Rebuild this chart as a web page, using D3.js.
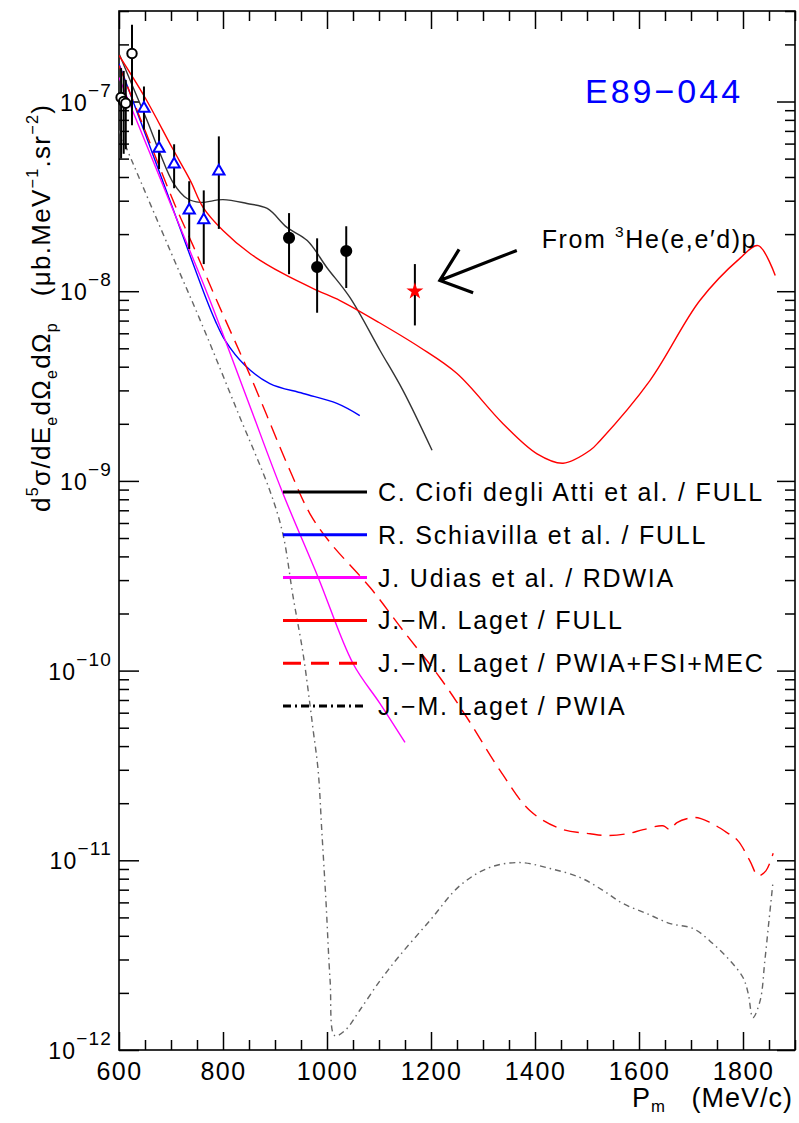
<!DOCTYPE html>
<html>
<head>
<meta charset="utf-8">
<script src="https://cdn.jsdelivr.net/npm/d3@7"></script>
<style>
body { margin: 0; background: #fff; }
text { font-family: "Liberation Sans", Arial, sans-serif; }
</style>
</head>
<body>
<svg id="chart" width="799" height="1123"></svg>
<script>
// axis ranges and ticks
var xDomain = [600, 1900];
var yDomain = [1e-12, 3e-7];
var xMajor = [600, 800, 1000, 1200, 1400, 1600, 1800];
var yMajor = [1e-12, 1e-11, 1e-10, 1e-9, 1e-8, 1e-7];
var yExp = ["−12", "−11", "−10", "−9", "−8", "−7"];

// theory curves, [Pm (MeV/c), cross section]
var ciofi = [[600,1.79e-7],[627,1.19e-7],[654,7.94e-8],[679,5.32e-8],[704,3.74e-8],[731,3.08e-8],[756,2.94e-8],[800,3.04e-8],[846,2.9e-8],[885,2.73e-8],[923,2.17e-8],[962,1.85e-8],[1000,1.33e-8],[1044,9.27e-9],[1102,4.87e-9],[1146,3.0e-9],[1202,1.45e-9]];
var schiavilla = [[600,1.58e-7],[650,6.8e-8],[700,2.9e-8],[769,8.93e-9],[785,7.0e-9],[804,5.5e-9],[842,4.07e-9],[890,3.26e-9],[954,2.89e-9],[1019,2.56e-9],[1063,2.21e-9]];
var udias = [[600,1.34e-7],[700,2.85e-8],[775,8.93e-9],[850,2.55e-9],[913,8.9e-10],[983,3.1e-10],[1050,1.09e-10],[1102,6.7e-11],[1150,4.18e-11]];
var lagetFull = [[600,1.75e-7],[650,1.05e-7],[702,5.72e-8],[737,3.84e-8],[762,2.76e-8],[800,2.09e-8],[852,1.58e-8],[915,1.24e-8],[981,1.01e-8],[1025,8.93e-9],[1100,6.84e-9],[1179,5.05e-9],[1250,3.68e-9],[1338,2.01e-9],[1404,1.39e-9],[1454,1.24e-9],[1506,1.45e-9],[1525,1.63e-9],[1621,3.38e-9],[1717,8.93e-9],[1794,1.49e-8],[1829,1.74e-8],[1862,1.21e-8]];
var lagetFsiMec = [[600,1.55e-7],[650,7.05e-8],[708,2.83e-8],[742,1.75e-8],[788,8.93e-9],[852,3.6e-9],[929,1.13e-9],[967,6.73e-10],[1006,4.73e-10],[1083,2.74e-10],[1146,1.63e-10],[1217,9.2e-11],[1269,5.66e-11],[1333,2.97e-11],[1390,1.83e-11],[1448,1.47e-11],[1506,1.38e-11],[1538,1.35e-11],[1577,1.38e-11],[1608,1.45e-11],[1646,1.52e-11],[1660,1.45e-11],[1673,1.58e-11],[1708,1.68e-11],[1737,1.58e-11],[1769,1.4e-11],[1790,1.27e-11],[1813,9.97e-12],[1829,8.3e-12],[1844,8.8e-12],[1858,1.09e-11]];
var lagetPwia = [[600,7.03e-8],[627,4.71e-8],[700,1.6e-8],[762,6.44e-9],[830,2.25e-9],[890,8.9e-10],[915,5.28e-10],[935,2.43e-10],[954,1.23e-10],[967,6.7e-11],[973,4.95e-11],[983,2.97e-11],[990,1.43e-11],[998,6.1e-12],[1006,2.32e-12],[1015,1.19e-12],[1035,1.27e-12],[1063,1.62e-12],[1102,2.32e-12],[1140,3.15e-12],[1198,4.82e-12],[1256,7.37e-12],[1313,9.17e-12],[1371,9.73e-12],[1429,9.05e-12],[1487,8.11e-12],[1531,6.93e-12],[1569,5.92e-12],[1615,5.24e-12],[1660,4.64e-12],[1704,4.37e-12],[1742,3.64e-12],[1775,2.96e-12],[1800,2.41e-12],[1810,1.99e-12],[1819,1.48e-12],[1833,1.82e-12],[1842,2.96e-12],[1850,4.82e-12],[1858,7.82e-12]];

// data points
var circX = [604, 609, 613, 625];
var circY = [1.05e-7, 1.0e-7, 9.8e-8, 1.79e-7];
var circLo = [5.0e-8, 5.3e-8, 5.6e-8, 7.5e-8];
var circHi = [1.5e-7, 1.45e-7, 1.3e-7, 2.54e-7];

var triX = [648, 677, 706, 735, 763, 792];
var triY = [9.19e-8, 5.66e-8, 4.67e-8, 2.67e-8, 2.37e-8, 4.29e-8];
var triLo = [7.1e-8, 4.4e-8, 3.49e-8, 1.67e-8, 1.39e-8, 2.13e-8];
var triHi = [1.2e-7, 7.1e-8, 5.95e-8, 3.8e-8, 3.4e-8, 6.55e-8];

var dotX = [927, 981, 1037];
var dotY = [1.91e-8, 1.34e-8, 1.63e-8];
var dotLo = [1.23e-8, 7.7e-9, 1.04e-8];
var dotHi = [2.58e-8, 1.9e-8, 2.2e-8];

var starX = [1169];
var starY = [1.0e-8];
var starLo = [6.6e-9];
var starHi = [1.39e-8];

var legendLabels = ["C. Ciofi degli Atti et al. / FULL", "R. Schiavilla et al. / FULL", "J. Udias et al. / RDWIA",
  "J.\u2212M. Laget / FULL", "J.\u2212M. Laget / PWIA+FSI+MEC", "J.\u2212M. Laget / PWIA"];

var m = {t:11, r:4, b:73, l:119},
  W = 799, H = 1123,
  w = W - m.l - m.r,
  h = H - m.t - m.b;

var x = d3.scaleLinear().domain(xDomain).range([m.l, m.l + w]);
var y = d3.scaleLog().domain(yDomain).range([m.t + h, m.t]);

var xMinor = d3.range(xDomain[0], xDomain[1] + 1, 50).filter(function(v){ return xMajor.indexOf(v) < 0; });
var yMinor = [];
yMajor.forEach(function(d) {
  for (var k = 2; k <= 9; k++) if (d * k <= yDomain[1] * 1.0001) yMinor.push(d * k);
});

var styles = [
  {c:"#333", dash:null, dashL:null},
  {c:"#0000ff", dash:null, dashL:null},
  {c:"#ff00ff", dash:null, dashL:null},
  {c:"#ff0000", dash:null, dashL:null},
  {c:"#ff0000", dash:"15,8", dashL:"18,10"},
  {c:"#666", dash:"6,4,1.5,4", dashL:"8,4,2,4"}
];
var curves = [ciofi, schiavilla, udias, lagetFull, lagetFsiMec, lagetPwia];

var svg = d3.select('#chart');
svg.append('rect').attr('width', W).attr('height', H).attr('fill', '#fff');

function richText(t, parts, base, subShift) {
  var shift = 0;
  parts.forEach(function(p) {
    var target = p.s === 'sup' ? -0.45 * base : (p.s === 'sub' ? (subShift || 0.28) * base : 0);
    t.append('tspan')
      .attr('dy', target - shift)
      .attr('font-size', p.s ? base * 0.62 : base)
      .text(p.t);
    shift = target;
  });
}

// axes
function tickAxis(axis, tx, ty, vals, size) {
  var g = svg.append('g')
    .attr('transform', 'translate(' + tx + ',' + ty + ')')
    .call(axis.tickValues(vals).tickSize(size).tickFormat(''));
  g.select('.domain').remove();
  g.selectAll('line').attr('stroke', '#000').attr('stroke-width', 1.5);
  return g;
}
tickAxis(d3.axisBottom(x), 0, m.t + h, xMinor, -10);
tickAxis(d3.axisTop(x), 0, m.t, xMinor, -10);
tickAxis(d3.axisTop(x), 0, m.t, xMajor, -18);
tickAxis(d3.axisLeft(y), m.l, 0, yMinor, -10);
tickAxis(d3.axisLeft(y), m.l, 0, yMajor, -20);
tickAxis(d3.axisRight(y), m.l + w, 0, yMinor, -10);
tickAxis(d3.axisRight(y), m.l + w, 0, yMajor, -18);

var gx = svg.append('g')
  .attr('transform', 'translate(0,' + (m.t + h) + ')')
  .call(d3.axisBottom(x).tickValues(xMajor).tickSize(-18).tickPadding(12).tickFormat(d3.format('d')));
gx.select('.domain').remove();
gx.selectAll('line').attr('stroke', '#000').attr('stroke-width', 1.5);
gx.attr('font-size', 25).attr('font-family', '"Liberation Sans", Arial, sans-serif');
gx.selectAll('text').attr('letter-spacing', 1.5).attr('fill', '#000');

yMajor.forEach(function(v, i) {
  var t = svg.append('text')
    .attr('x', m.l - 7)
    .attr('y', y(v) + 9)
    .attr('text-anchor', 'end')
    .attr('letter-spacing', 1.2);
  t.append('tspan').attr('font-size', 23).text('10');
  t.append('tspan').attr('font-size', 19).attr('dy', -14).text(yExp[i]);
});

// frame
svg.append('rect')
  .attr('x', m.l).attr('y', m.t).attr('width', w).attr('height', h)
  .attr('fill', 'none').attr('stroke', '#000').attr('stroke-width', 1.6);

// axis titles
var yl = svg.append('text')
  .attr('transform', 'translate(50,512) rotate(-90)')
  .attr('letter-spacing', 1.3);
richText(yl, [{t:'d'},{t:'5',s:'sup'},{t:'σ/dE'},{t:'e',s:'sub'},{t:'dΩ'},{t:'e',s:'sub'},{t:'dΩ'},{t:'p',s:'sub'},
  {t:'\u00a0\u00a0\u00a0(μb.MeV'},{t:'−1',s:'sup'},{t:'.sr'},{t:'−2',s:'sup'},{t:')'}], 26);

var xl = svg.append('text')
  .attr('x', m.l + w - 2).attr('y', 1107)
  .attr('text-anchor', 'end')
  .attr('letter-spacing', 1);
richText(xl, [{t:'P'},{t:'m',s:'sub'},{t:'\u00a0\u00a0\u00a0(MeV/c)'}], 27, 0.18);

// curves
svg.append('clipPath').attr('id', 'clip')
  .append('rect').attr('x', m.l).attr('y', m.t).attr('width', w).attr('height', h);

var line = d3.line()
  .x(function(d){ return x(d[0]); })
  .y(function(d){ return y(d[1]); })
  .curve(d3.curveCatmullRom.alpha(0.5));

var gc = svg.append('g').attr('clip-path', 'url(#clip)');
gc.selectAll('path.curve')
  .data(curves)
  .enter()
  .append('path')
  .attr('class', 'curve')
  .attr('d', line)
  .attr('fill', 'none')
  .attr('stroke', function(d, i){ return styles[i].c; })
  .attr('stroke-width', 1.4)
  .attr('stroke-dasharray', function(d, i){ return styles[i].dash; });

// data points with error bars
function points(X, Y, Lo, Hi, sym, size, stroke, fill) {
  var data = X.map(function(v, i){ return {x:v, y:Y[i], lo:Lo[i], hi:Hi[i]}; });
  var g = svg.append('g');
  g.selectAll('line')
    .data(data)
    .enter()
    .append('line')
    .attr('x1', function(d){ return x(d.x); })
    .attr('x2', function(d){ return x(d.x); })
    .attr('y1', function(d){ return y(d.lo); })
    .attr('y2', function(d){ return y(d.hi); })
    .attr('stroke', '#000')
    .attr('stroke-width', 2);
  g.selectAll('path')
    .data(data)
    .enter()
    .append('path')
    .attr('transform', function(d){ return 'translate(' + x(d.x) + ',' + y(d.y) + ')'; })
    .attr('d', d3.symbol().type(sym).size(size))
    .attr('fill', fill)
    .attr('stroke', stroke)
    .attr('stroke-width', 2);
}
points(circX, circY, circLo, circHi, d3.symbolCircle, 70, '#000', '#fff');
points(triX, triY, triLo, triHi, d3.symbolTriangle, 55, '#0000ff', '#fff');
points(dotX, dotY, dotLo, dotHi, d3.symbolCircle, 80, '#000', '#000');
points(starX, starY, starLo, starHi, d3.symbolStar, 90, 'none', '#ff0000');

// annotation arrow
var tip = [x(1217), y(1.14e-8)];
var arrow = d3.path();
arrow.moveTo(x(1365), y(1.64e-8)); arrow.lineTo(tip[0], tip[1]);
arrow.moveTo(x(1254), y(1.66e-8)); arrow.lineTo(tip[0], tip[1]); arrow.lineTo(x(1281), y(9.8e-9));
svg.append('path').attr('d', arrow.toString())
  .attr('fill', 'none').attr('stroke', '#000').attr('stroke-width', 3.2);

var ann = svg.append('text')
  .attr('x', x(1413)).attr('y', y(1.68e-8))
  .attr('letter-spacing', 1.6);
richText(ann, [{t:'From '},{t:'3',s:'sup'},{t:'He(e,e\u2032d)p'}], 25);

svg.append('text')
  .attr('x', 585).attr('y', 103)
  .attr('font-size', 34)
  .attr('letter-spacing', 3)
  .attr('fill', '#0000ff')
  .text('E89\u2212044');

// legend
var lg = svg.append('g').attr('transform', 'translate(283,492)');
var rows = lg.selectAll('g')
  .data(legendLabels)
  .enter()
  .append('g')
  .attr('transform', function(d, i){ return 'translate(0,' + (i * 42.8) + ')'; });
rows.append('line')
  .attr('x1', 0).attr('x2', 84)
  .attr('stroke', function(d, i){ return i === 0 || i === 5 ? '#000' : styles[i].c; })
  .attr('stroke-width', 3)
  .attr('stroke-dasharray', function(d, i){ return styles[i].dashL; });
rows.append('text')
  .attr('x', 95).attr('y', 9)
  .attr('font-size', 25)
  .attr('letter-spacing', 1.8)
  .text(function(d){ return d; });
</script>
</body>
</html>
